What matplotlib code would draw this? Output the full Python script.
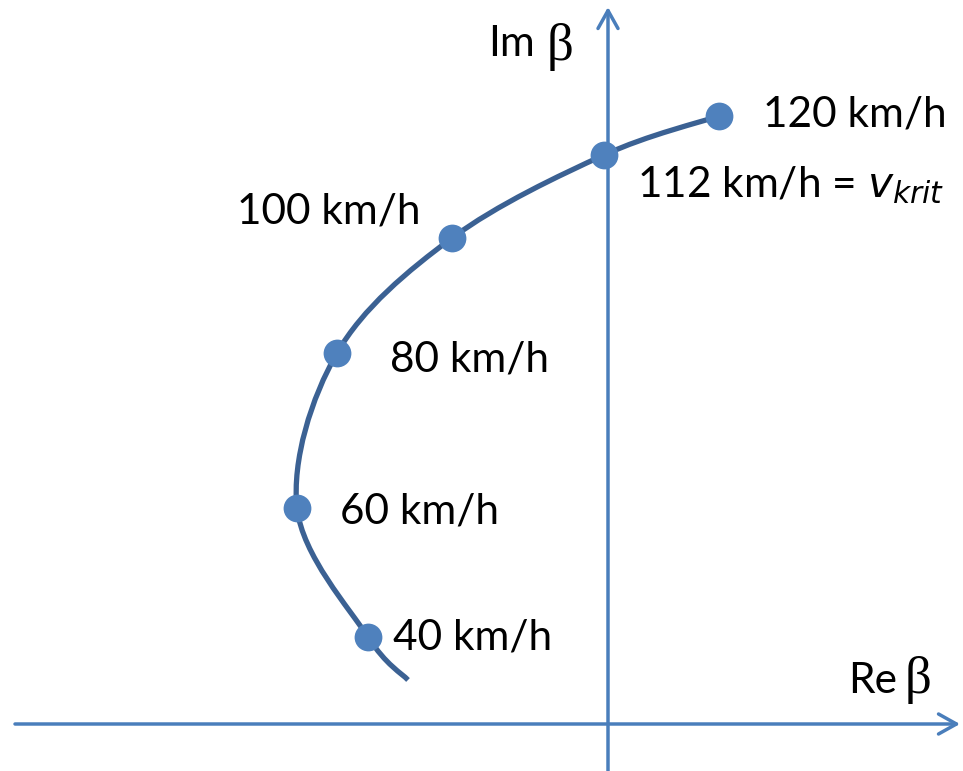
import matplotlib
matplotlib.use("Agg")
import matplotlib.pyplot as plt
import numpy as np
from matplotlib.path import Path
from matplotlib.patches import PathPatch

# ---- data (Re β, Im β); origin at axes crossing ----
speed_labels = ["40 km/h", "60 km/h", "80 km/h", "100 km/h", "112 km/h", "120 km/h"]
re_beta = [-2.40, -3.11, -2.71, -1.56, -0.04, 1.11]
im_beta = [0.87, 2.16, 3.71, 4.86, 5.69, 6.08]
# curve tail below the 40 km/h point
tail_re = [-2.00]
tail_im = [0.44]

AXIS_C = "#4a7ebb"
CURVE_C = "#3b6193"
MARK_C = "#4f81bd"
FONT = "Lato"
FS = 30.5

fig = plt.figure(figsize=(9.63, 7.71), dpi=100)
ax = fig.add_axes([0, 0, 1, 1])
ax.set_xlim(-6.08, 3.55)
ax.set_ylim(-0.47, 7.24)
ax.axis("off")

# axes arrows
ax.annotate("", xy=(3.52, 0), xytext=(-5.93, 0),
            arrowprops=dict(arrowstyle="->,head_length=0.43,head_width=0.24",
                            lw=2.5, color=AXIS_C, shrinkA=0, shrinkB=0,
                            mutation_scale=30))
ax.annotate("", xy=(0, 7.17), xytext=(0, -0.47),
            arrowprops=dict(arrowstyle="->,head_length=0.43,head_width=0.24",
                            lw=2.5, color=AXIS_C, shrinkA=0, shrinkB=0,
                            mutation_scale=30))

# smooth curve (Catmull-Rom as cubic Bezier, drawn by matplotlib Path)
pts = np.column_stack([tail_re + re_beta, tail_im + im_beta])
ext = np.vstack([pts[0], pts, pts[-1]])
verts = [tuple(pts[0])]
codes = [Path.MOVETO]
for i in range(1, len(ext) - 2):
    p0, p1, p2, p3 = ext[i - 1], ext[i], ext[i + 1], ext[i + 2]
    c1 = p1 + (p2 - p0) / 6.0
    c2 = p2 - (p3 - p1) / 6.0
    verts += [tuple(c1), tuple(c2), tuple(p2)]
    codes += [Path.CURVE4] * 3
ax.add_patch(PathPatch(Path(verts, codes), fill=False, lw=3.8,
                       edgecolor=CURVE_C, capstyle="butt", zorder=3))

ax.plot(re_beta, im_beta, "o", ms=20, color=MARK_C, mec="none", zorder=4)

# labels (offsets in data units from each point)
offsets = [(0.25, 0.0), (0.43, -0.04), (0.53, -0.07), (-2.15, 0.26), (0.33, -0.30), (0.44, 0.01)]
for lab, x, y, (dx, dy) in zip(speed_labels, re_beta, im_beta, offsets):
    if lab.startswith("112"):
        ax.text(x + dx, y + dy, lab + r" = $\mathit{v}_{\mathit{krit}}$", fontsize=FS,
                family=FONT, va="center", ha="left")
    else:
        ax.text(x + dx, y + dy, lab, fontsize=FS, family=FONT, va="center", ha="left")

# axis names
ax.text(-1.20, 6.80, "Im", fontsize=FS, family=FONT, va="center", ha="left")
ax.text(-0.61, 6.77, "β", fontsize=38, family="Liberation Serif", va="center", ha="left")
ax.text(2.40, 0.43, "Re", fontsize=FS, family=FONT, va="center", ha="left")
ax.text(2.97, 0.44, "β", fontsize=38, family="Liberation Serif", va="center", ha="left")

fig.savefig("out.png", dpi=100)
